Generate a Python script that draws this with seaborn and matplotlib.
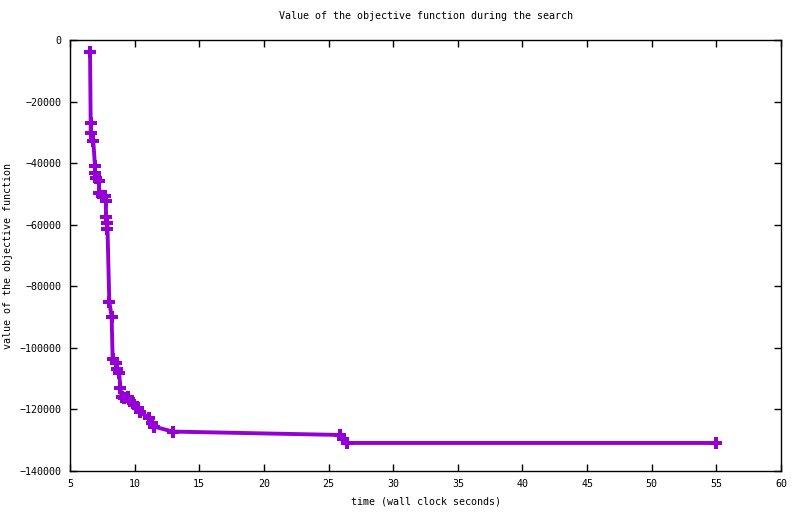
import matplotlib
matplotlib.use("Agg")
import matplotlib.pyplot as plt
import seaborn as sns
import pandas as pd

# time (s) and objective value
tiempo = [6.55, 6.6, 6.6, 6.8, 6.93, 6.93, 7.0, 7.22, 7.27, 7.5, 7.68, 7.78, 7.78, 7.9, 7.9,
          8.04, 8.22, 8.3, 8.56, 8.6, 8.8, 8.9, 8.99, 9.2, 9.51, 9.64, 9.9, 10.28, 10.41,
          11.13, 11.32, 11.52, 12.94, 25.9, 26.1, 26.4, 55.0]
valor = [-3800, -26900, -30100, -32700, -40800, -43100, -44700, -45700, -49800, -50600,
         -50600, -52200, -57500, -59300, -61300, -85000, -89900, -103700, -104800, -106800,
         -108100, -113100, -115900, -116400, -115900, -117300, -118000, -119600, -120900,
         -122700, -124500, -125600, -127200, -128300, -129600, -130900, -130900]

df = pd.DataFrame({"tiempo": tiempo, "valor": valor})

sns.set_style("ticks")
plt.rcParams["font.family"] = ["DejaVu Sans Mono"]
plt.rcParams["font.size"] = 7.2
plt.rcParams["text.color"] = "black"
plt.rcParams["axes.labelcolor"] = "black"
plt.rcParams["xtick.color"] = "black"
plt.rcParams["ytick.color"] = "black"

fig = plt.figure(figsize=(8, 5.14), dpi=100)
ax = fig.add_axes([0.0875, 0.0837, 0.8888, 0.8383])

# sin agregar: cada punto tal cual
sns.lineplot(x="tiempo", y="valor", data=df, color="#9400D3", linewidth=2.8,
             estimator=None, sort=False,
             marker="P", markersize=8, markeredgewidth=0, ax=ax)

ax.set_xlim(5, 60)
ax.set_ylim(-140000, 0)
ax.set_xticks(range(5, 61, 5))
ax.set_yticks(range(-140000, 1, 20000))
ax.tick_params(direction="in", top=True, right=True, length=5, width=1, labelsize=7.2, pad=6)
for s in ax.spines.values():
    s.set_visible(True)
    s.set_linewidth(1)
    s.set_color("black")

ax.set_title("Value of the objective function during the search", fontsize=7.2, pad=15)
ax.set_xlabel("time (wall clock seconds)", fontsize=7.2, labelpad=5)
ax.set_ylabel("value of the objective function", fontsize=7.2, labelpad=5)

fig.savefig("out.png", dpi=100)
